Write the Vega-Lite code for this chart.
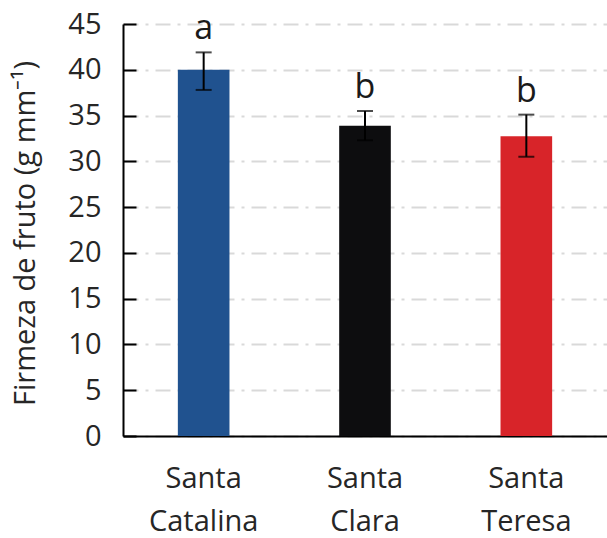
{
  "$schema": "https://vega.github.io/schema/vega-lite/v6.json",
  "autosize": "none",
  "padding": {"left": 123, "top": 24, "right": 0, "bottom": 102},
  "width": 484,
  "height": 412,
  "background": "white",
  "config": {
    "view": {"stroke": null},
    "font": "Open Sans"
  },
  "data": {
    "values": [
      {"cultivar": "Santa Catalina", "mean": 40.0, "lo": 37.8, "hi": 41.9, "letter": "a", "color": "#20528f"},
      {"cultivar": "Santa Clara", "mean": 33.9, "lo": 32.3, "hi": 35.5, "letter": "b", "color": "#0d0d0f"},
      {"cultivar": "Santa Teresa", "mean": 32.75, "lo": 30.5, "hi": 35.1, "letter": "b", "color": "#d82429"}
    ]
  },
  "encoding": {
    "x": {
      "field": "cultivar",
      "type": "nominal",
      "sort": null,
      "scale": {"paddingInner": 0.68, "paddingOuter": 0.34},
      "axis": {
        "title": null,
        "labelAngle": 0,
        "labelExpr": "split(datum.label, ' ')",
        "labelLineHeight": 43,
        "labelFontSize": 29,
        "labelColor": "#262626",
        "labelPadding": 28,
        "ticks": false,
        "domainColor": "#000000",
        "domainWidth": 2
      }
    }
  },
  "layer": [
    {
      "mark": {"type": "bar"},
      "encoding": {
        "y": {
          "field": "mean",
          "type": "quantitative",
          "scale": {"domain": [0, 45], "nice": false},
          "axis": {
            "values": [0, 5, 10, 15, 20, 25, 30, 35, 40, 45],
            "title": "Firmeza de fruto (g mm⁻¹)",
            "titleFontSize": 29,
            "titleFontWeight": "normal",
            "titleColor": "#262626",
            "titleX": -98,
            "titleY": 209,
            "titleAngle": -90,
            "titleAlign": "center",
            "titleBaseline": "middle",
            "labelFontSize": 29,
            "labelColor": "#262626",
            "labelPadding": 35,
            "tickSize": -13,
            "tickColor": "#000000",
            "tickWidth": 2,
            "domainColor": "#000000",
            "domainWidth": 2,
            "grid": true,
            "gridColor": "#d9d9d9",
            "gridWidth": 2,
            "gridDash": [15, 7, 3, 7]
          }
        },
        "color": {"field": "color", "type": "nominal", "scale": null}
      }
    },
    {
      "mark": {"type": "rule", "color": "#000000", "strokeWidth": 2},
      "encoding": {
        "y": {"field": "lo", "type": "quantitative"},
        "y2": {"field": "hi"}
      }
    },
    {
      "mark": {"type": "tick", "color": "#000000", "thickness": 2, "size": 16},
      "encoding": {"y": {"field": "lo", "type": "quantitative"}}
    },
    {
      "mark": {"type": "tick", "color": "#000000", "thickness": 2, "size": 16},
      "encoding": {"y": {"field": "hi", "type": "quantitative"}}
    },
    {
      "mark": {"type": "text", "fontSize": 34, "baseline": "alphabetic", "dy": -13, "color": "#1a1a1a"},
      "encoding": {
        "y": {"field": "hi", "type": "quantitative"},
        "text": {"field": "letter"}
      }
    }
  ]
}
